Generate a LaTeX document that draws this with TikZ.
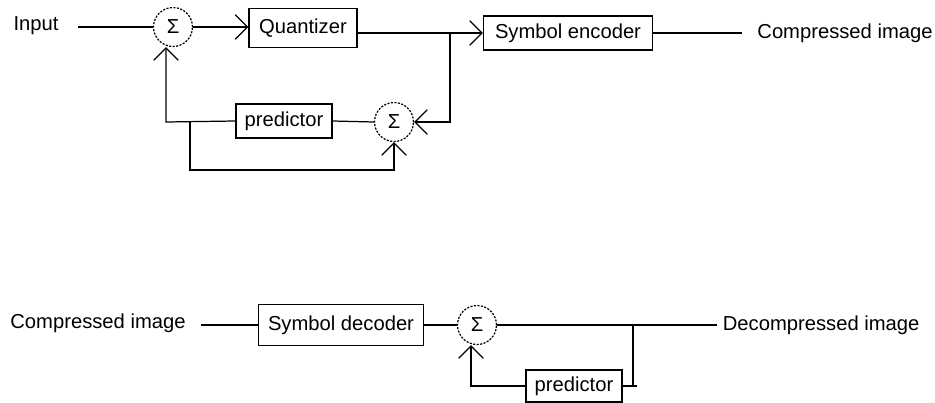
\documentclass[tikz,border=0pt]{standalone}
\usepackage{fontspec}
\setmainfont{Liberation Sans}
\usepackage{tikz}
\usetikzlibrary{arrows.meta}

\begin{document}
\begin{tikzpicture}[x=0.02cm, y=-0.02cm, line width=0.7pt,
    font=\fontsize{11.5}{13}\selectfont,
    blockbox/.style={rectangle, draw=black, inner sep=2pt},
    sumnode/.style={circle, draw=black, dash pattern=on 1.2pt off 0.8pt, minimum size=0.78cm, inner sep=0pt},
    >={Straight Barb[length=7pt, width=14pt]}]
    \useasboundingbox (0,0) rectangle (935,402);

    % encoder
    \node[] (inp) at (36,26) {Input};
    \node[sumnode] (sumA) at (173,27) {Σ};
    \node[blockbox, minimum width=2.16cm, minimum height=0.78cm] (quant) at (303,28) {Quantizer};
    \node[blockbox, minimum width=3.38cm, minimum height=0.68cm] (enc) at (568,33) {Symbol encoder};
    \node[] (cimgA) at (845,33) {Compressed image};
    \node[blockbox, minimum width=1.92cm, minimum height=0.68cm] (predA) at (284,121) {predictor};
    \node[sumnode] (sumB) at (394,122) {Σ};

    \coordinate (inpout) at (78,27);
    \coordinate (encout) at (742,33);
    \coordinate (tapA) at (450,33);
    \coordinate (fbA) at (166,122);
    \coordinate (brA) at (190,122);
    \coordinate (lowA) at (190,170);

    \draw[-] (inpout) -- (sumA.west);
    \draw[->] (sumA.east) -- (quant.west |- sumA.east);
    \draw[->] (quant.east |- enc.west) -- (enc.west);
    \draw[-] (enc.east) -- (encout);
    \draw[->] (tapA) |- (sumB.east);
    \draw[-] (predA.east) -- (sumB.west);
    \draw[->] (predA.west) -- (fbA) -- (fbA |- sumA.south);
    \draw[->] (brA) -- (lowA) -| (sumB.south);

    % decoder
    \node[] (cimgB) at (98,323) {Compressed image};
    \node[blockbox, minimum width=3.3cm, minimum height=0.82cm] (dec) at (341,325) {Symbol decoder};
    \node[sumnode] (sumC) at (477,325) {Σ};
    \node[anchor=west, inner sep=3pt] (dimg) at (717,325) {Decompressed image};
    \node[blockbox, minimum width=1.92cm, minimum height=0.64cm] (predB) at (574,386) {predictor};

    \coordinate (cin) at (201,325);
    \coordinate (tapB) at (633,325);
    \coordinate (stubB) at (637,386);
    \coordinate (fbC) at (471,386);

    \draw[-] (cin) -- (dec.west);
    \draw[-] (dec.east) -- (sumC.west);
    \draw[-] (sumC.east) -- (dimg.west);
    \draw[-] (tapB) -- (tapB |- predB.east);
    \draw[-] (predB.east) -- (stubB);
    \draw[->] (predB.west) -- (fbC) -- (fbC |- sumC.south);
\end{tikzpicture}
\end{document}
